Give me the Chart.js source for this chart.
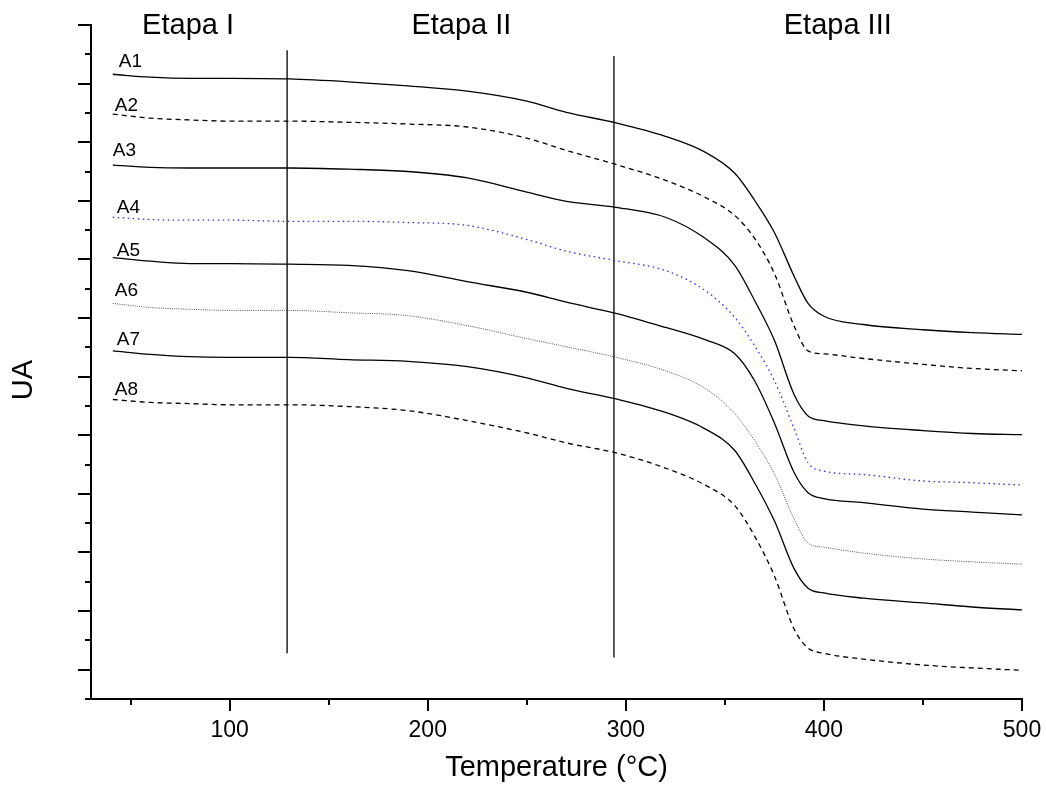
<!DOCTYPE html>
<html>
<head>
<meta charset="utf-8">
<title>UA vs Temperature</title>
<script src="https://cdn.jsdelivr.net/npm/chart.js@4.4.1/dist/chart.umd.min.js"></script>
<style>
  html, body { margin: 0; padding: 0; background: #fff; }
  #wrap { width: 1046px; height: 792px; }
</style>
</head>
<body>
<div id="wrap"><canvas id="tgChart" width="1046" height="792"></canvas></div>
<script>
// temperature grid (°C) shared by every curve
const temps = [41, 60, 80, 100, 130, 160, 190, 220, 250, 270, 295, 320, 340, 355, 365, 375, 385, 392, 400, 420, 450, 475, 500];

// curve values (arbitrary units)
const a1 = [10.16, 10.11, 10.09, 10.09, 10.08, 10.03, 9.96, 9.87, 9.70, 9.51, 9.33, 9.10, 8.83, 8.47, 8.01, 7.46, 6.71, 6.25, 6.03, 5.89, 5.80, 5.75, 5.72];
const a2 = [9.48, 9.41, 9.38, 9.36, 9.36, 9.34, 9.31, 9.26, 9.07, 8.86, 8.62, 8.35, 8.06, 7.75, 7.36, 6.76, 5.86, 5.44, 5.39, 5.31, 5.21, 5.14, 5.10];
const a3 = [8.61, 8.57, 8.56, 8.56, 8.56, 8.54, 8.50, 8.39, 8.15, 7.99, 7.89, 7.72, 7.36, 6.90, 6.30, 5.62, 4.69, 4.33, 4.25, 4.16, 4.08, 4.03, 4.01];
const a4 = [7.72, 7.68, 7.67, 7.67, 7.65, 7.65, 7.63, 7.58, 7.34, 7.14, 6.98, 6.81, 6.47, 6.01, 5.53, 4.93, 4.11, 3.53, 3.39, 3.33, 3.22, 3.19, 3.15];
const a5 = [7.03, 6.97, 6.93, 6.93, 6.92, 6.90, 6.81, 6.62, 6.44, 6.27, 6.08, 5.84, 5.63, 5.39, 4.93, 4.21, 3.36, 3.02, 2.92, 2.85, 2.74, 2.69, 2.64];
const a6 = [6.25, 6.18, 6.15, 6.13, 6.13, 6.09, 6.04, 5.87, 5.65, 5.51, 5.33, 5.10, 4.80, 4.37, 3.91, 3.34, 2.57, 2.16, 2.09, 1.99, 1.89, 1.84, 1.80];
const a7 = [5.44, 5.38, 5.34, 5.33, 5.33, 5.29, 5.26, 5.17, 4.98, 4.80, 4.62, 4.39, 4.11, 3.74, 3.19, 2.54, 1.72, 1.39, 1.31, 1.22, 1.14, 1.07, 1.02];
const a8 = [4.61, 4.56, 4.54, 4.52, 4.52, 4.49, 4.42, 4.25, 4.04, 3.87, 3.70, 3.44, 3.15, 2.80, 2.28, 1.60, 0.69, 0.37, 0.28, 0.18, 0.08, 0.03, -0.01];

const seriesNames = ['A1', 'A2', 'A3', 'A4', 'A5', 'A6', 'A7', 'A8'];
const seriesValues = [a1, a2, a3, a4, a5, a6, a7, a8];

// where each name sits (data units)
const nameX = [44, 42, 41, 43, 43, 42, 43, 42];
const nameY = [10.37, 9.63, 8.85, 7.89, 7.15, 6.47, 5.63, 4.78];

// stage separators and titles
const stageLines = [129, 294];
const stageLineTop = [10.57, 10.47];
const stageLineBottom = [0.28, 0.21];
const stageNames = ['Etapa I', 'Etapa II', 'Etapa III'];
const stageX = [79, 217, 407];

// axis ticks
const xMajor = [100, 200, 300, 400, 500];
const xMinor = [50, 150, 250, 350, 450];
const yMin = -0.5;
const yMax = 11;

const FONT = '"Liberation Sans", Arial, sans-serif';

const lineStyles = [
  { color: '#000', dash: [] },
  { color: '#000', dash: [5, 4] },
  { color: '#000', dash: [] },
  { color: '#2b2bff', dash: [1.5, 3.5] },
  { color: '#000', dash: [] },
  { color: '#555', dash: [1, 1.2] },
  { color: '#000', dash: [] },
  { color: '#000', dash: [5, 4] }
];

const datasets = seriesNames.map((name, i) => ({
  label: name,
  data: temps.map((t, k) => ({ x: t, y: seriesValues[i][k] })),
  borderColor: lineStyles[i].color,
  borderDash: lineStyles[i].dash,
  borderWidth: i === 5 ? 1 : 1.3,
  pointRadius: 0,
  cubicInterpolationMode: 'monotone',
  fill: false
}));

stageLines.forEach((t, i) => {
  datasets.push({
    label: 'stage' + i,
    data: [{ x: t, y: stageLineBottom[i] }, { x: t, y: stageLineTop[i] }],
    borderColor: '#000',
    borderWidth: 1.3,
    pointRadius: 0,
    fill: false
  });
});

// tick marks (long majors, short minors) and text annotations
const decorations = {
  id: 'decorations',
  afterDraw(chart) {
    const { ctx } = chart;
    const xs = chart.scales.x;
    const ys = chart.scales.y;
    const base = ys.bottom;
    const left = xs.left;
    ctx.save();
    ctx.strokeStyle = '#000';
    ctx.lineWidth = 2;
    ctx.beginPath();
    xMajor.forEach(v => {
      const p = Math.round(xs.getPixelForValue(v));
      ctx.moveTo(p, base); ctx.lineTo(p, base + 12);
    });
    xMinor.forEach(v => {
      const p = Math.round(xs.getPixelForValue(v));
      ctx.moveTo(p, base); ctx.lineTo(p, base + 6);
    });
    for (let v = yMin; v <= yMax + 1e-9; v += 0.5) {
      const p = Math.round(ys.getPixelForValue(v));
      const len = Number.isInteger(v) ? 13 : 6;
      ctx.moveTo(left - len, p); ctx.lineTo(left, p);
    }
    ctx.stroke();

    ctx.fillStyle = '#000';
    ctx.textAlign = 'left';
    ctx.textBaseline = 'middle';
    ctx.font = '19px ' + FONT;
    seriesNames.forEach((name, i) => {
      ctx.fillText(name, xs.getPixelForValue(nameX[i]), ys.getPixelForValue(nameY[i]));
    });

    ctx.textAlign = 'center';
    ctx.font = '29px ' + FONT;
    stageNames.forEach((name, i) => {
      ctx.fillText(name, xs.getPixelForValue(stageX[i]), ys.getPixelForValue(yMax) + 1);
    });

    // y title
    ctx.translate(24, 380);
    ctx.rotate(-Math.PI / 2);
    ctx.fillText('UA', 0, 0);
    ctx.restore();
  }
};

new Chart(document.getElementById('tgChart'), {
  type: 'line',
  data: { datasets },
  options: {
    responsive: false,
    animation: false,
    devicePixelRatio: 1,
    layout: { padding: { top: 25, right: 24, left: 0, bottom: 0 } },
    plugins: {
      legend: { display: false },
      tooltip: { enabled: false }
    },
    scales: {
      x: {
        type: 'linear',
        min: 30,
        max: 500,
        afterFit(scale) {
          scale.height = 93;
          scale.paddingLeft = 0;
          scale.paddingRight = 0;
        },
        afterBuildTicks(scale) {
          scale.ticks = xMinor.concat(xMajor).sort((a, b) => a - b).map(v => ({ value: v }));
        },
        grid: { display: false, drawTicks: false },
        border: { display: true, color: '#000', width: 2 },
        ticks: {
          color: '#000',
          padding: 18,
          maxRotation: 0,
          autoSkip: false,
          font: { family: FONT, size: 23 },
          callback: v => (xMajor.includes(v) ? String(v) : '')
        },
        title: {
          display: true,
          text: 'Temperature (°C)',
          color: '#000',
          font: { family: FONT, size: 29 },
          padding: { top: 0, bottom: 7 }
        }
      },
      y: {
        type: 'linear',
        min: yMin,
        max: yMax,
        afterFit(scale) {
          scale.width = 91;
          scale.paddingTop = 0;
          scale.paddingBottom = 0;
        },
        grid: { display: false, drawTicks: false },
        border: { display: true, color: '#000', width: 2 },
        ticks: { display: false, stepSize: 0.5 }
      }
    }
  },
  plugins: [decorations]
});
</script>
</body>
</html>
